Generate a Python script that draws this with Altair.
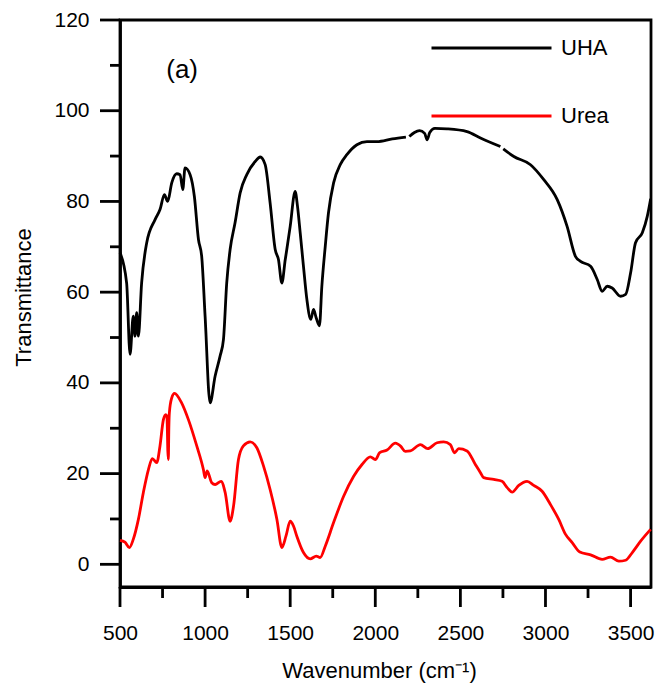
import altair as alt
import pandas as pd

# ---------------- data ----------------
uha_wn = [500, 539, 559, 578, 588, 598, 608, 627, 657, 706, 735, 761, 780, 804, 833, 853, 869, 882,
          912, 937, 961, 980, 1000, 1029, 1059, 1088, 1108, 1127, 1147, 1176, 1206, 1245, 1294, 1324,
          1353, 1382, 1412, 1431, 1451, 1471, 1480, 1500, 1529, 1543, 1559, 1578, 1598, 1621, 1637,
          1653, 1672, 1686, 1706, 1725, 1755, 1794, 1833, 1892, 1951, 2010, 2100, 2180,
          2200, 2230, 2260, 2290, 2305, 2320, 2350, 2421, 2539, 2618, 2735,
          2752, 2814, 2912, 2990, 3069, 3127, 3176, 3206, 3265, 3304, 3333, 3363, 3392, 3441, 3471,
          3500, 3529, 3569, 3598, 3618]
uha_t = [68.7, 62.0, 46.3, 54.7, 50.3, 55.5, 50.3, 62.0, 70.9, 76.0, 78.2, 81.5, 80.0, 84.1, 86.1, 85.9, 82.6, 87.4,
         85.9, 81.1, 71.6, 67.9, 54.7, 35.6, 41.5, 45.9, 49.6, 62.0, 69.4, 75.3, 81.9, 85.9, 88.8, 89.8,
         88.1, 79.7, 69.4, 67.2, 62.0, 67.2, 69.4, 74.5, 82.2, 78.9, 73.0, 65.7, 58.4, 54.0, 56.2,
         54.3, 52.6, 61.3, 70.1, 77.5, 84.1, 88.1, 90.3, 92.5, 93.2, 93.2, 93.8, 94.2,
         94.3, 95.2, 95.6, 95.0, 93.6, 95.2, 96.1, 96.0, 95.4, 94.0, 92.1,
         91.6, 89.9, 88.1, 84.8, 80.4, 74.5, 67.9, 66.8, 65.7, 62.8, 60.2, 61.3, 60.9, 59.1, 59.5,
         64.2, 70.9, 73.1, 76.7, 80.6]
uha_seg = [1] * 62 + [2] * 11 + [3] * 20

urea_wn = [500, 529, 555, 578, 608, 637, 667, 690, 716, 735, 755, 769, 776, 781, 784, 787, 790,
           804, 820, 862, 902, 951, 990, 1000, 1012, 1039, 1059, 1094, 1118, 1147, 1167, 1196, 1225,
           1265, 1304, 1343, 1382, 1422, 1451, 1475, 1500, 1520, 1539, 1578, 1618, 1653, 1676, 1706,
           1755, 1814, 1873, 1922, 1971, 2000, 2026, 2069, 2118, 2150, 2176, 2206, 2265, 2308, 2363,
           2402, 2441, 2465, 2490, 2539, 2588, 2618, 2637, 2696, 2745, 2775, 2804, 2843, 2892, 2931,
           2980, 3029, 3078, 3118, 3157, 3202, 3265, 3333, 3382, 3431, 3471, 3510, 3559, 3618]
urea_t = [5.3, 4.9, 3.7, 5.5, 9.9, 15.8, 20.9, 23.3, 22.4, 26.1, 31.9, 33.0, 32.5, 25.0, 23.1, 30.0, 33.4,
          36.7, 37.7, 35.6, 31.9, 26.1, 20.9, 19.1, 20.6, 18.0, 17.6, 18.3, 15.8, 9.5, 12.8, 23.1, 26.1,
          27.0, 25.7, 21.7, 16.5, 9.9, 3.7, 6.2, 9.5, 8.4, 6.2, 2.6, 1.2, 1.8, 1.5, 4.0,
          9.2, 15.0, 19.4, 22.0, 23.7, 23.1, 24.6, 25.2, 26.7, 26.0, 24.9, 25.0, 26.4, 25.5, 26.8,
          27.0, 26.4, 24.6, 25.5, 25.0, 22.0, 20.2, 19.1, 18.7, 18.3, 16.9, 15.9, 17.4, 18.3, 17.4,
          16.1, 13.2, 9.9, 6.6, 4.8, 2.7, 2.1, 1.1, 1.6, 0.7, 0.9, 2.6, 5.1, 7.7]

series_names = ["UHA", "Urea"]
series_colors = ["#000000", "#ff0000"]

x_major = [500, 1000, 1500, 2000, 2500, 3000, 3500]
x_minor = [750, 1250, 1750, 2250, 2750, 3250]
y_major = [0, 20, 40, 60, 80, 100, 120]
y_minor = [10, 30, 50, 70, 90, 110]

panel_text = ["(a)"]
panel_x = [865]
panel_y = [109]

# ---------------- tables ----------------
rows = []
for w, t, s in zip(uha_wn, uha_t, uha_seg):
    rows.append({"wn": w, "t": t, "series": "UHA", "seg": f"UHA-{s}"})
for w, t in zip(urea_wn, urea_t):
    rows.append({"wn": w, "t": t, "series": "Urea", "seg": "Urea"})
df = pd.DataFrame(rows)
annot_df = pd.DataFrame({"x": panel_x, "y": panel_y, "text": panel_text})

FONT = "Liberation Sans"
W, H = 531, 567
LW = 2.8
MAJOR, MINOR = 20, 10
TICK_COLOR = "#000000"
xscale = alt.Scale(domain=[500, 3620], nice=False, zero=False)
yscale = alt.Scale(domain=[-5, 120], nice=False, zero=False)

# axis labels/titles come from the axes; the tick strokes are drawn by rule layers below
common_axis = dict(grid=False, tickColor="black", tickWidth=LW, tickOpacity=0, domainColor="black",
                   domainWidth=LW, labelColor="black", labelFont=FONT, titleFont=FONT,
                   titleColor="black", titleFontWeight="normal", labelFlush=False, format="d")

lines = alt.Chart(df).mark_line(strokeWidth=LW, interpolate="monotone").encode(
    x=alt.X("wn:Q", scale=xscale, axis=alt.Axis(
        values=x_major, tickSize=MAJOR, labelFontSize=21, labelPadding=15, orient="bottom",
        title="Wavenumber (cm\u207b\u00b9)", titleFontSize=22, titleX=259, titleY=90,
        titleBaseline="alphabetic", titleAlign="center", **common_axis)),
    y=alt.Y("t:Q", scale=yscale, axis=alt.Axis(
        values=y_major, tickSize=MAJOR, labelFontSize=21, labelPadding=11, orient="left",
        title="Transmittance", titleFontSize=22, titleAngle=270, titleX=-90, titleY=277,
        titleBaseline="alphabetic", titleAlign="center", **common_axis)),
    color=alt.Color("series:N", scale=alt.Scale(domain=series_names, range=series_colors),
                    legend=alt.Legend(title=None, orient="none", legendX=310, legendY=13,
                                      symbolType="stroke", symbolSize=14400, symbolStrokeWidth=LW,
                                      clipHeight=30, rowPadding=38, labelOffset=8, labelFontSize=22,
                                      labelFont=FONT, labelColor="black", padding=0)),
    detail="seg:N",
)


def x_ticks(values, length):
    return alt.Chart(pd.DataFrame({"v": values})).mark_rule(
        strokeWidth=LW, color=TICK_COLOR, clip=False).encode(
        x=alt.X("v:Q", scale=xscale, axis=None),
        y=alt.value(H), y2=alt.value(H + length),
    )


def y_ticks(values, length):
    return alt.Chart(pd.DataFrame({"v": values})).mark_rule(
        strokeWidth=LW, color=TICK_COLOR, clip=False).encode(
        y=alt.Y("v:Q", scale=yscale, axis=None),
        x=alt.value(-length), x2=alt.value(0),
    )


annot = alt.Chart(annot_df).mark_text(font=FONT, fontSize=26, color="black").encode(
    x=alt.X("x:Q", scale=xscale, axis=None),
    y=alt.Y("y:Q", scale=yscale, axis=None),
    text="text:N",
)

chart = alt.layer(
    lines,
    x_ticks(x_major, MAJOR), x_ticks(x_minor, MINOR + 1),
    y_ticks(y_major, MAJOR), y_ticks(y_minor, MINOR),
    annot,
).resolve_axis(x="independent", y="independent").properties(
    width=W, height=H,
    autosize=alt.AutoSizeParams(type="none"),
    padding={"left": 120, "top": 20, "right": 4, "bottom": 101},
    background="white",
).configure_view(stroke="black", strokeWidth=LW)

chart.save("out.html", embed_options={"renderer": "svg", "actions": False})
